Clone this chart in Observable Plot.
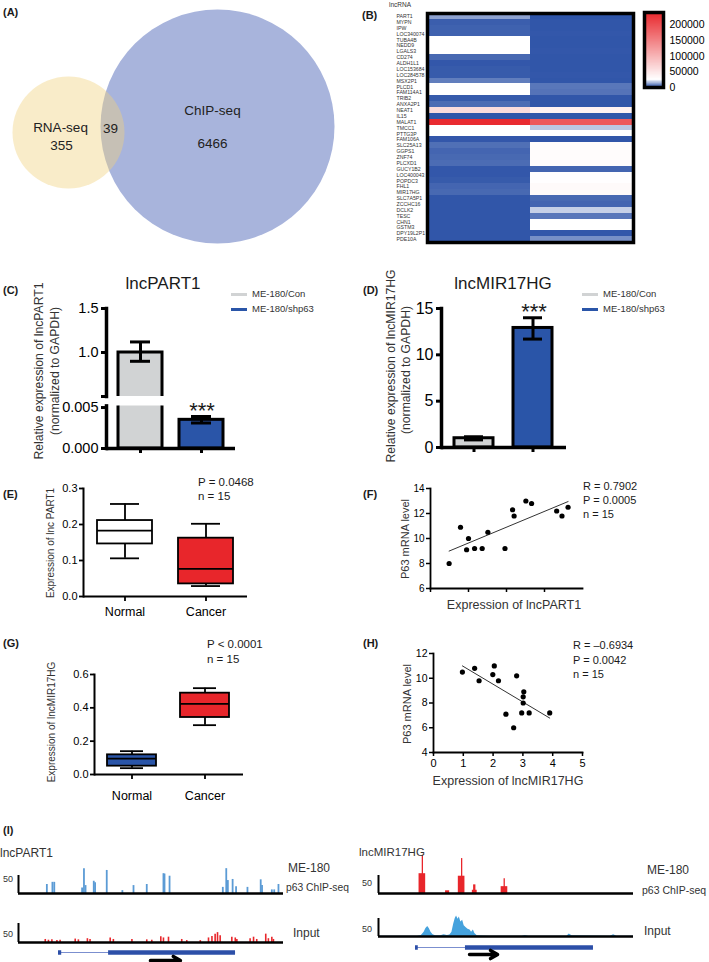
<!DOCTYPE html>
<html><head><meta charset="utf-8">
<script src="https://cdn.jsdelivr.net/npm/d3@7"></script>
<script src="https://cdn.jsdelivr.net/npm/@observablehq/plot@0.6"></script>
<style>
body{margin:0;background:#fff;}
#root{position:relative;width:709px;height:962px;overflow:hidden;font-family:"Liberation Sans",Arial,Helvetica,sans-serif;color:#1a1a1a;}
.lbl{position:absolute;white-space:nowrap;line-height:1;}
.sw{position:absolute;}
</style></head><body><div id="root"></div>
<script>
// ---------- DATA ----------
// (A) Venn
const vennSets = ["RNA-seq", "ChIP-seq"];
const vennOnly = [355, 6466];
const vennShared = 39;

// (B) heatmap
const lncRNAs = ["PART1","MYPN","IPW","LOC340074","TUBA4B","NEDD9","LGALS3","CD274","ALDH1L1","LOC153684","LOC284578","MSX2P1","PLCD1","FAM114A1","TRIB2","ANXA2P1","NEAT1","IL15","MALAT1","TMCC1","PTTG3P","FAM106A","SLC25A13","GGPS1","ZNF74","PLCXD1","GUCY1B2","LOC400043","POPDC3","FHL1","MIR17HG","SLC7A5P1","ZCCHC16","DCLK2","TESC","CHN1","GSTM3","DPY19L2P1","PDE10A"];
const heatCols = ["1", "2"];
const heatCol1 = [11700,2000,2500,2500,25000,25000,25000,3500,1000,1500,1500,6500,25000,25000,1500,4000,60000,800,235000,25000,25000,1000,4500,3000,3500,4000,1000,1000,1500,3000,3500,800,800,800,800,800,800,800,800];
const heatCol2 = [500,800,800,1000,800,800,1000,800,800,800,1000,800,5500,5000,800,800,38000,800,190000,17000,25000,800,28000,28000,28000,28000,3000,25500,25500,30000,30000,3500,3000,18300,5500,25000,25000,1000,9200];
const heatLegendTicks = [0, 50000, 100000, 150000, 200000];

// (C)/(D) bars
const barGroups = ["ME-180/Con", "ME-180/shp63"];
const part1Mean = [1.0, 0.0035], part1Lo = [0.9, 0.0031], part1Hi = [1.12, 0.0039];
const mir17Mean = [1.0, 12.9], mir17Lo = [0.82, 11.7], mir17Hi = [1.16, 14.0];

// (E)/(G) box plots
const boxGroups = ["Normal", "Cancer"];
const part1Min = [0.106, 0.029], part1Q1 = [0.146, 0.035], part1Med = [0.183, 0.077], part1Q3 = [0.211, 0.162], part1Max = [0.257, 0.202];
const mirMin = [0.038, 0.296], mirQ1 = [0.05, 0.342], mirMed = [0.095, 0.424], mirQ3 = [0.118, 0.488], mirMax = [0.14, 0.518];

// (F)/(H) scatter
const fX = [0.049,0.079,0.095,0.1,0.116,0.136,0.151,0.196,0.216,0.22,0.251,0.266,0.332,0.346,0.362];
const fY = [8.0,10.9,9.1,10.0,9.2,9.2,10.5,9.2,12.3,11.8,13.0,12.8,12.2,11.8,12.5];
const hX = [0.97,1.38,1.53,1.99,2.04,2.18,2.43,2.69,2.79,2.96,3.01,3.03,3.01,3.21,3.9];
const hY = [10.5,10.8,9.8,10.3,11.0,9.8,7.1,6.0,10.2,7.2,8.5,8.9,8.0,7.2,7.2];

// (I) tracks (relative position 0-100 along the window)
const part1ChipPos = [10.7,12.8,13.5,24.0,24.7,25.3,28.4,28.9,33.3,39.2,43.4,48.4,54.7,55.1,57.0,77.1,78.4,79.0,80.8,82.1,86.4,91.4,91.9,95.6,96.5,98.1];
const part1ChipVal = [25,31,31,15,69,22,34,30,64,8,22,25,55,54,48,17,69,36,39,19,17,38,22,10,10,25];
const part1InputPos = [10.1,11.3,12.6,14.5,15.7,21.4,22.6,26.0,27.0,34.6,35.8,42.8,48.4,50.3,53.7,54.7,56.6,61.6,63.5,68.6,71.7,73.0,74.2,75.1,76.1,80.5,81.8,82.4,87.4,88.7,89.9,93.3,94.3,95.6,96.2];
const part1InputVal = [8,6,7,5,6,9,7,10,8,12,8,8,7,6,15,12,14,8,5,5,12,16,22,26,18,14,12,8,10,14,8,22,10,14,8];
const mir17ChipStart = [15.9,26.3,31.3,36.8,37.3,48.1];
const mir17ChipEnd = [18.5,27.9,33.9,38.7,38.2,50.7];
const mir17ChipVal = [55,7.5,48,9,24,19];
const mir17SpikePos = [17.2,32.6,49.3];
const mir17SpikeVal = [105,97,41];
const mir17InputPos = [0,8.7,15.3,16.8,17.9,18.6,19.3,19.9,20.6,21.4,22.4,24.4,25.7,27,28,28.8,29.5,30.1,30.6,31.2,31.7,32.3,33,33.6,34.3,35.1,35.9,36.5,37.2,37.8,38.7,43.9,56.3,57.6,58.9,73.9,74.8,75.9,90.9,92.2,93.5,100];
const mir17InputVal = [0.5,1,1,3,12,22,28,22,12,5,2,2,5,3,4,12,35,50,57,48,54,40,45,30,25,20,18,12,18,8,2,1,1,3,1,1,7,2,1,5,1,0.5];
const part1ExonStart = [15.1, 34.0], part1ExonEnd = [16.3, 81.9], part1Arrow = [49.8, 61.1];
const mir17ExonStart = [14.5, 34.1], mir17ExonEnd = [15.6, 84.3], mir17Arrow = [35.7, 46.7];

// ---------- HELPERS ----------
const FONT = '"Liberation Sans", Arial, Helvetica, sans-serif';
const root = document.getElementById("root");
function place(frame, region, opts) {
  const [fl, ft, fr, fb] = frame, [rl, rt, rr, rb] = region;
  const svg = Plot.plot({
    ...opts,
    width: rr - rl, height: rb - rt,
    marginLeft: fl - rl, marginTop: ft - rt, marginRight: rr - fr, marginBottom: rb - fb,
    style: {background: "transparent", fontFamily: FONT, color: "#000", overflow: "visible"}
  });
  svg.style.position = "absolute"; svg.style.left = rl + "px"; svg.style.top = rt + "px";
  root.appendChild(svg);
  return svg;
}
function label(text, x, y, size, o = {}) {
  const d = document.createElement("div");
  d.className = "lbl"; d.textContent = text;
  d.style.left = x + "px"; d.style.top = y + "px"; d.style.fontSize = size + "px";
  if (o.bold) d.style.fontWeight = "bold";
  if (o.color) d.style.color = o.color;
  const tx = o.anchor === "middle" ? "-50%" : o.anchor === "end" ? "-100%" : "0";
  d.style.transform = o.rotate ? "translate(-50%,-50%) rotate(-90deg)" : `translate(${tx},-50%)`;
  root.appendChild(d);
}
function swatch(x, y, w, h, color) {
  const d = document.createElement("div"); d.className = "sw";
  Object.assign(d.style, {left: x + "px", top: y + "px", width: w + "px", height: h + "px", background: color});
  root.appendChild(d);
}
const BLUE = "#2a55a8", RED = "#e8262b", GRAY = "#d1d3d4";

// ---------- (A) Venn ----------
const vennLayout = {"RNA-seq": {cx: 68, cy: 132, lx: 60, ly: 127, nx: 61, ny: 145},
                    "ChIP-seq": {cx: 217, cy: 126, lx: 212, ly: 110, nx: 212, ny: 143}};
const vennRows = vennSets.map((s, i) => ({set: s, n: vennOnly[i]}));
place([0,0,340,245], [0,0,340,245], {
  x: {domain: [0, 340], axis: null}, y: {domain: [0, 245], reverse: true, axis: null},
  marks: [
    Plot.dot([vennRows[1]], {x: d => vennLayout[d.set].cx, y: d => vennLayout[d.set].cy, r: 117, fill: "#a8b4dc", stroke: "none"}),
    Plot.dot([vennRows[0]], {x: d => vennLayout[d.set].cx, y: d => vennLayout[d.set].cy, r: 56, fill: "#f0d27e", fillOpacity: 0.42, stroke: "none"}),
    Plot.text(vennRows, {x: d => vennLayout[d.set].lx, y: d => vennLayout[d.set].ly, text: "set", fontSize: 13.5, fill: "#222"}),
    Plot.text(vennRows, {x: d => vennLayout[d.set].nx, y: d => vennLayout[d.set].ny, text: d => String(d.n), fontSize: 13.5, fill: "#222"}),
    Plot.text([vennShared], {x: 110, y: 128, text: d => String(d), fontSize: 13.5, fill: "#222"})
  ]
});
label("(A)", 3, 12, 11, {bold: true});

// ---------- (B) heatmap ----------
const heatColor = {type: "linear", domain: [0, 25000, 240000], range: ["#2a50a6", "#ffffff", "#e8262b"]};
const heatData = lncRNAs.flatMap((g, i) => [{gene: g, col: heatCols[0], value: heatCol1[i]}, {gene: g, col: heatCols[1], value: heatCol2[i]}]);
place([427,13,633,242], [360,0,650,250], {
  x: {domain: heatCols, padding: 0, axis: null}, y: {domain: lncRNAs, padding: 0, axis: null},
  color: heatColor,
  marks: [
    Plot.cell(heatData, {x: "col", y: "gene", fill: "value", inset: 0, shapeRendering: "crispEdges"}),
    Plot.frame({stroke: "#000", strokeWidth: 3.5}),
    Plot.text(lncRNAs, {y: d => d, frameAnchor: "left", textAnchor: "start", dx: -31, fontSize: 5.2, fill: "#333"})
  ]
});
const ramp = d3.range(0, 240000, 1200);
place([644,12,663,87], [636,0,709,95], {
  y: {domain: [0, 240000], axis: null}, color: heatColor,
  marks: [
    Plot.rect(ramp, {y1: d => d, y2: d => d + 1200, fill: d => d + 600, shapeRendering: "crispEdges"}),
    Plot.frame({stroke: "#000", strokeWidth: 3.5}),
    Plot.dot(heatLegendTicks.slice(1), {y: d => d, frameAnchor: "right", r: 1.4, fill: "#000"}),
    Plot.axisY({anchor: "right", ticks: heatLegendTicks, tickFormat: "d", tickSize: 0, tickPadding: 6, fontSize: 10.5, label: null})
  ]
});
label("(B)", 362, 15, 11, {bold: true});
label("lncRNA", 389, 5, 6.5, {color: "#333"});

// ---------- (C)/(D) bars ----------
function barMarks(data, clip, inset) {
  return [
    Plot.barY(data, {x: "group", y: "mean", fill: "group", stroke: "#000", strokeWidth: 3, clip}),
    Plot.ruleX(data, {x: "group", y1: "lo", y2: "hi", strokeWidth: 3, clip}),
    Plot.tickY(data, {x: "group", y: "hi", strokeWidth: 3, insetLeft: inset, insetRight: inset, clip}),
    Plot.tickY(data, {x: "group", y: "lo", strokeWidth: 3, insetLeft: inset, insetRight: inset, clip})
  ];
}
const barColor = {domain: barGroups, range: [GRAY, BLUE]};
const cData = barGroups.map((g, i) => ({group: g, mean: part1Mean[i], lo: part1Lo[i], hi: part1Hi[i]}));
const cX = {type: "band", domain: barGroups, paddingInner: 0.283, paddingOuter: 0.19, axis: null};
place([106,308,235,396], [50,300,240,398], {
  x: cX, y: {domain: [0.5, 1.5]}, color: barColor,
  marks: [
    ...barMarks(cData, true, 12),
    Plot.frame({anchor: "left", strokeWidth: 3.5}),
    Plot.axisY({ticks: [1, 1.5], tickFormat: d3.format(".1f"), tickSize: 5, tickPadding: 3, fontSize: 14.5, strokeWidth: 3, label: null}),
    Plot.axisY({ticks: [0.5], tickFormat: () => "", tickSize: 5, strokeWidth: 3, label: null})
  ]
});
place([106,405.4,235,448], [50,400,240,460], {
  x: cX, y: {domain: [0, 0.0052]}, color: barColor,
  marks: [
    ...barMarks(cData, true, 12),
    Plot.frame({anchor: "left", strokeWidth: 3.5}),
    Plot.ruleY([0], {strokeWidth: 3.5}),
    Plot.axisY({ticks: [0, 0.005], tickFormat: d3.format(".3f"), tickSize: 5, tickPadding: 3, fontSize: 14.5, strokeWidth: 3, label: null}),
    Plot.axisX({tickSize: 5, tickFormat: () => "", strokeWidth: 3, label: null})
  ]
});
label("(C)", 3, 290, 11, {bold: true});
label("lncPART1", 163, 283, 17, {anchor: "middle"});
label("***", 202, 411, 22, {anchor: "middle"});
label("Relative expression of lncPART1", 39, 371, 12.2, {rotate: true, color: "#333"});
label("(normalized to GAPDH)", 55, 371, 12.2, {rotate: true, color: "#333"});
swatch(231, 292.5, 16, 3.5, GRAY); label("ME-180/Con", 252, 294, 9.5, {color: "#333"});
swatch(231, 307.5, 16, 3.5, BLUE); label("ME-180/shp63", 252, 309, 9.5, {color: "#333"});

const dData = barGroups.map((g, i) => ({group: g, mean: mir17Mean[i], lo: mir17Lo[i], hi: mir17Hi[i]}));
place([441,308,566,447], [395,300,600,460], {
  x: {type: "band", domain: barGroups, paddingInner: 0.333, paddingOuter: 0.217, axis: null},
  y: {domain: [0, 15]}, color: barColor,
  marks: [
    ...barMarks(dData, false, 10),
    Plot.frame({anchor: "left", strokeWidth: 3.5}),
    Plot.ruleY([0], {strokeWidth: 3.5}),
    Plot.axisY({ticks: [0, 5, 10, 15], tickSize: 5, tickPadding: 3, fontSize: 16, strokeWidth: 3, label: null}),
    Plot.axisX({tickSize: 5, tickFormat: () => "", strokeWidth: 3, label: null})
  ]
});
label("(D)", 363, 290, 11, {bold: true});
label("lncMIR17HG", 503, 283, 17, {anchor: "middle"});
label("***", 534, 312, 22, {anchor: "middle"});
label("Relative expression of lncMIR17HG", 391, 366, 12.2, {rotate: true, color: "#333"});
label("(normalized to GAPDH)", 406, 370, 12.2, {rotate: true, color: "#333"});
swatch(582, 292.5, 16, 3.5, GRAY); label("ME-180/Con", 603, 294, 9.5, {color: "#333"});
swatch(582, 307.5, 16, 3.5, BLUE); label("ME-180/shp63", 603, 309, 9.5, {color: "#333"});

// ---------- (E)/(G) boxes ----------
function boxMarks(data, inset) {
  const sw = 1.8;
  return [
    Plot.ruleX(data, {x: "group", y1: "min", y2: "q1", strokeWidth: sw}),
    Plot.ruleX(data, {x: "group", y1: "q3", y2: "max", strokeWidth: sw}),
    Plot.barY(data, {x: "group", y1: "q1", y2: "q3", fill: "group", stroke: "#000", strokeWidth: sw}),
    Plot.tickY(data, {x: "group", y: "med", strokeWidth: sw}),
    Plot.tickY(data, {x: "group", y: "min", strokeWidth: sw, insetLeft: inset, insetRight: inset}),
    Plot.tickY(data, {x: "group", y: "max", strokeWidth: sw, insetLeft: inset, insetRight: inset})
  ];
}
const eData = boxGroups.map((g, i) => ({group: g, min: part1Min[i], q1: part1Q1[i], med: part1Med[i], q3: part1Q3[i], max: part1Max[i]}));
place([83,488,247,596], [30,480,260,625], {
  x: {type: "band", domain: boxGroups, paddingInner: 0.32, paddingOuter: 0.17},
  y: {domain: [0, 0.3]}, color: {domain: boxGroups, range: ["#ffffff", RED]},
  marks: [
    ...boxMarks(eData, 13),
    Plot.frame({anchor: "left", strokeWidth: 2}),
    Plot.ruleY([0], {strokeWidth: 2}),
    Plot.axisY({ticks: [0, 0.1, 0.2, 0.3], tickFormat: d3.format(".1f"), tickSize: 4, tickPadding: 2, fontSize: 11, strokeWidth: 1.8, label: null}),
    Plot.axisX({tickSize: 5, tickPadding: 6, fontSize: 12.5, strokeWidth: 1.8, label: null})
  ]
});
label("(E)", 3, 494, 11, {bold: true});
label("P = 0.0468", 198, 483, 11.5);
label("n = 15", 198, 497, 11.5);
label("Expression of lnc PART1", 51, 543, 10, {rotate: true, color: "#333"});

const gData = boxGroups.map((g, i) => ({group: g, min: mirMin[i], q1: mirQ1[i], med: mirMed[i], q3: mirQ3[i], max: mirMax[i]}));
place([94,674,243,774], [40,660,260,805], {
  x: {type: "band", domain: boxGroups, paddingInner: 0.324, paddingOuter: 0.176},
  y: {domain: [0, 0.6]}, color: {domain: boxGroups, range: [BLUE, RED]},
  marks: [
    ...boxMarks(gData, 13),
    Plot.frame({anchor: "left", strokeWidth: 2}),
    Plot.ruleY([0], {strokeWidth: 2}),
    Plot.axisY({ticks: [0, 0.2, 0.4, 0.6], tickFormat: d3.format(".1f"), tickSize: 4, tickPadding: 2, fontSize: 11, strokeWidth: 1.8, label: null}),
    Plot.axisX({tickSize: 5, tickPadding: 12, fontSize: 12.5, strokeWidth: 1.8, label: null})
  ]
});
label("(G)", 3, 643, 11, {bold: true});
label("P < 0.0001", 207, 645, 11.5);
label("n = 15", 207, 660, 11.5);
label("Expression of lncMIR17HG", 52, 722, 10, {rotate: true, color: "#333"});

// ---------- (F)/(H) scatter ----------
const fData = fX.map((x, i) => ({x, y: fY[i]}));
place([430,488,582,588], [390,480,600,615], {
  x: {domain: [0, 0.4]}, y: {domain: [6, 14]},
  marks: [
    Plot.frame({anchor: "left", strokeWidth: 1.8}),
    Plot.frame({anchor: "bottom", strokeWidth: 1.8}),
    Plot.axisY({ticks: [6, 8, 10, 12, 14], tickSize: 4, tickPadding: 2, fontSize: 10, strokeWidth: 1.5, label: null}),
    Plot.axisX({ticks: [0, 0.1, 0.2, 0.3], tickFormat: () => "", tickSize: 4, strokeWidth: 1.5, label: null}),
    Plot.linearRegressionY(fData, {x: "x", y: "y", ci: 0, stroke: "#333", strokeWidth: 1}),
    Plot.dot(fData, {x: "x", y: "y", r: 2.6, fill: "#000", stroke: "none"})
  ]
});
label("(F)", 363, 494, 11, {bold: true});
label("R = 0.7902", 583, 486, 11);
label("P = 0.0005", 583, 500, 11);
label("n = 15", 583, 514, 11);
label("P63 mRNA level", 405, 539, 11, {rotate: true, color: "#333"});
label("Expression of lncPART1", 514, 605, 12.5, {anchor: "middle", color: "#333"});

const hData = hX.map((x, i) => ({x, y: hY[i]}));
place([433,653,582,752], [390,640,600,775], {
  x: {domain: [0, 5]}, y: {domain: [4, 12]},
  marks: [
    Plot.frame({anchor: "left", strokeWidth: 1.8}),
    Plot.frame({anchor: "bottom", strokeWidth: 1.8}),
    Plot.axisY({ticks: [4, 6, 8, 10, 12], tickSize: 4, tickPadding: 2, fontSize: 10.5, strokeWidth: 1.5, label: null}),
    Plot.axisX({ticks: [0, 1, 2, 3, 4, 5], tickFormat: "d", tickSize: 4, tickPadding: 3, fontSize: 11, strokeWidth: 1.5, label: null}),
    Plot.linearRegressionY(hData, {x: "x", y: "y", ci: 0, stroke: "#333", strokeWidth: 1}),
    Plot.dot(hData, {x: "x", y: "y", r: 2.6, fill: "#000", stroke: "none"})
  ]
});
label("(H)", 363, 643, 11, {bold: true});
label("R = \u20130.6934", 573, 645, 11);
label("P = 0.0042", 573, 660, 11);
label("n = 15", 573, 674, 11);
label("P63 mRNA level", 407, 704, 11, {rotate: true, color: "#333"});
label("Expression of lncMIR17HG", 508, 781, 12.5, {anchor: "middle", color: "#333"});

// ---------- (I) tracks ----------
function track(frame, region, marks) {
  place(frame, region, {
    x: {domain: [0, 100], axis: null}, y: {domain: [0, 50], axis: null},
    marks: [...marks, Plot.ruleY([0], {strokeWidth: 2.5}), Plot.ruleX([0], {y1: 0, y2: 50, strokeWidth: 2})]
  });
}
function gene(frame, region, exS, exE, arrow) {
  const ex = exS.map((s, i) => ({s, e: exE[i]}));
  place(frame, region, {
    x: {domain: [0, 100], axis: null}, y: {domain: [0, 1], axis: null},
    marks: [
      Plot.ruleY([1], {x1: exS[0], x2: exE[exE.length - 1], stroke: "#7b8fcf", strokeWidth: 1.2}),
      Plot.ruleY(ex, {y: () => 1, x1: "s", x2: "e", stroke: "#2c4fa8", strokeWidth: 4.5}),
      Plot.arrow([arrow], {x1: d => d[0], x2: d => d[1], y1: () => 0, y2: () => 0, stroke: "#000", strokeWidth: 3.5, headLength: 3.5})
    ]
  });
}
const lChip = part1ChipPos.map((p, i) => ({p, v: part1ChipVal[i]}));
const lInput = part1InputPos.map((p, i) => ({p, v: part1InputVal[i]}));
track([18,875,283,893], [0,845,290,897], [Plot.ruleX(lChip, {x: "p", y1: 0, y2: "v", stroke: "#5b9bd5", strokeWidth: 1.8})]);
track([18,923,283,942], [0,905,290,946], [Plot.ruleX(lInput, {x: "p", y1: 0, y2: "v", stroke: RED, strokeWidth: 1.6})]);
gene([18,952,283,960], [0,944,290,962], part1ExonStart, part1ExonEnd, part1Arrow);

const rBars = mir17ChipStart.map((s, i) => ({s, e: mir17ChipEnd[i], v: mir17ChipVal[i]}));
const rSpikes = mir17SpikePos.map((p, i) => ({p, v: mir17SpikeVal[i]}));
const rInput = mir17InputPos.map((p, i) => ({p, v: mir17InputVal[i]}));
track([378,875,633,893], [360,845,640,897], [
  Plot.ruleX(rSpikes, {x: "p", y1: 0, y2: "v", stroke: RED, strokeWidth: 1.3}),
  Plot.rect(rBars, {x1: "s", x2: "e", y1: 0, y2: "v", fill: RED})
]);
track([378,918,633,936], [360,900,640,940], [Plot.areaY(rInput, {x: "p", y: "v", fill: "#45a2dd"})]);
gene([378,947,633,954], [360,940,640,962], mir17ExonStart, mir17ExonEnd, mir17Arrow);

label("(I)", 3, 830, 11, {bold: true});
label("lncPART1", 0, 853, 12, {color: "#333"});
label("50", 13, 879, 9, {anchor: "end", color: "#333"});
label("50", 13, 934, 9, {anchor: "end", color: "#333"});
label("ME-180", 288, 868, 12, {color: "#333"});
label("p63 ChIP-seq", 286, 888, 10.3, {color: "#333"});
label("Input", 293, 933, 12, {color: "#333"});
label("lncMIR17HG", 359, 853, 11.5, {color: "#333"});
label("50", 372, 883, 9, {anchor: "end", color: "#333"});
label("50", 372, 929, 9, {anchor: "end", color: "#333"});
label("ME-180", 647, 870, 12, {color: "#333"});
label("p63 ChIP-seq", 642, 890, 10.5, {color: "#333"});
label("Input", 644, 931, 12, {color: "#333"});
</script></body></html>
